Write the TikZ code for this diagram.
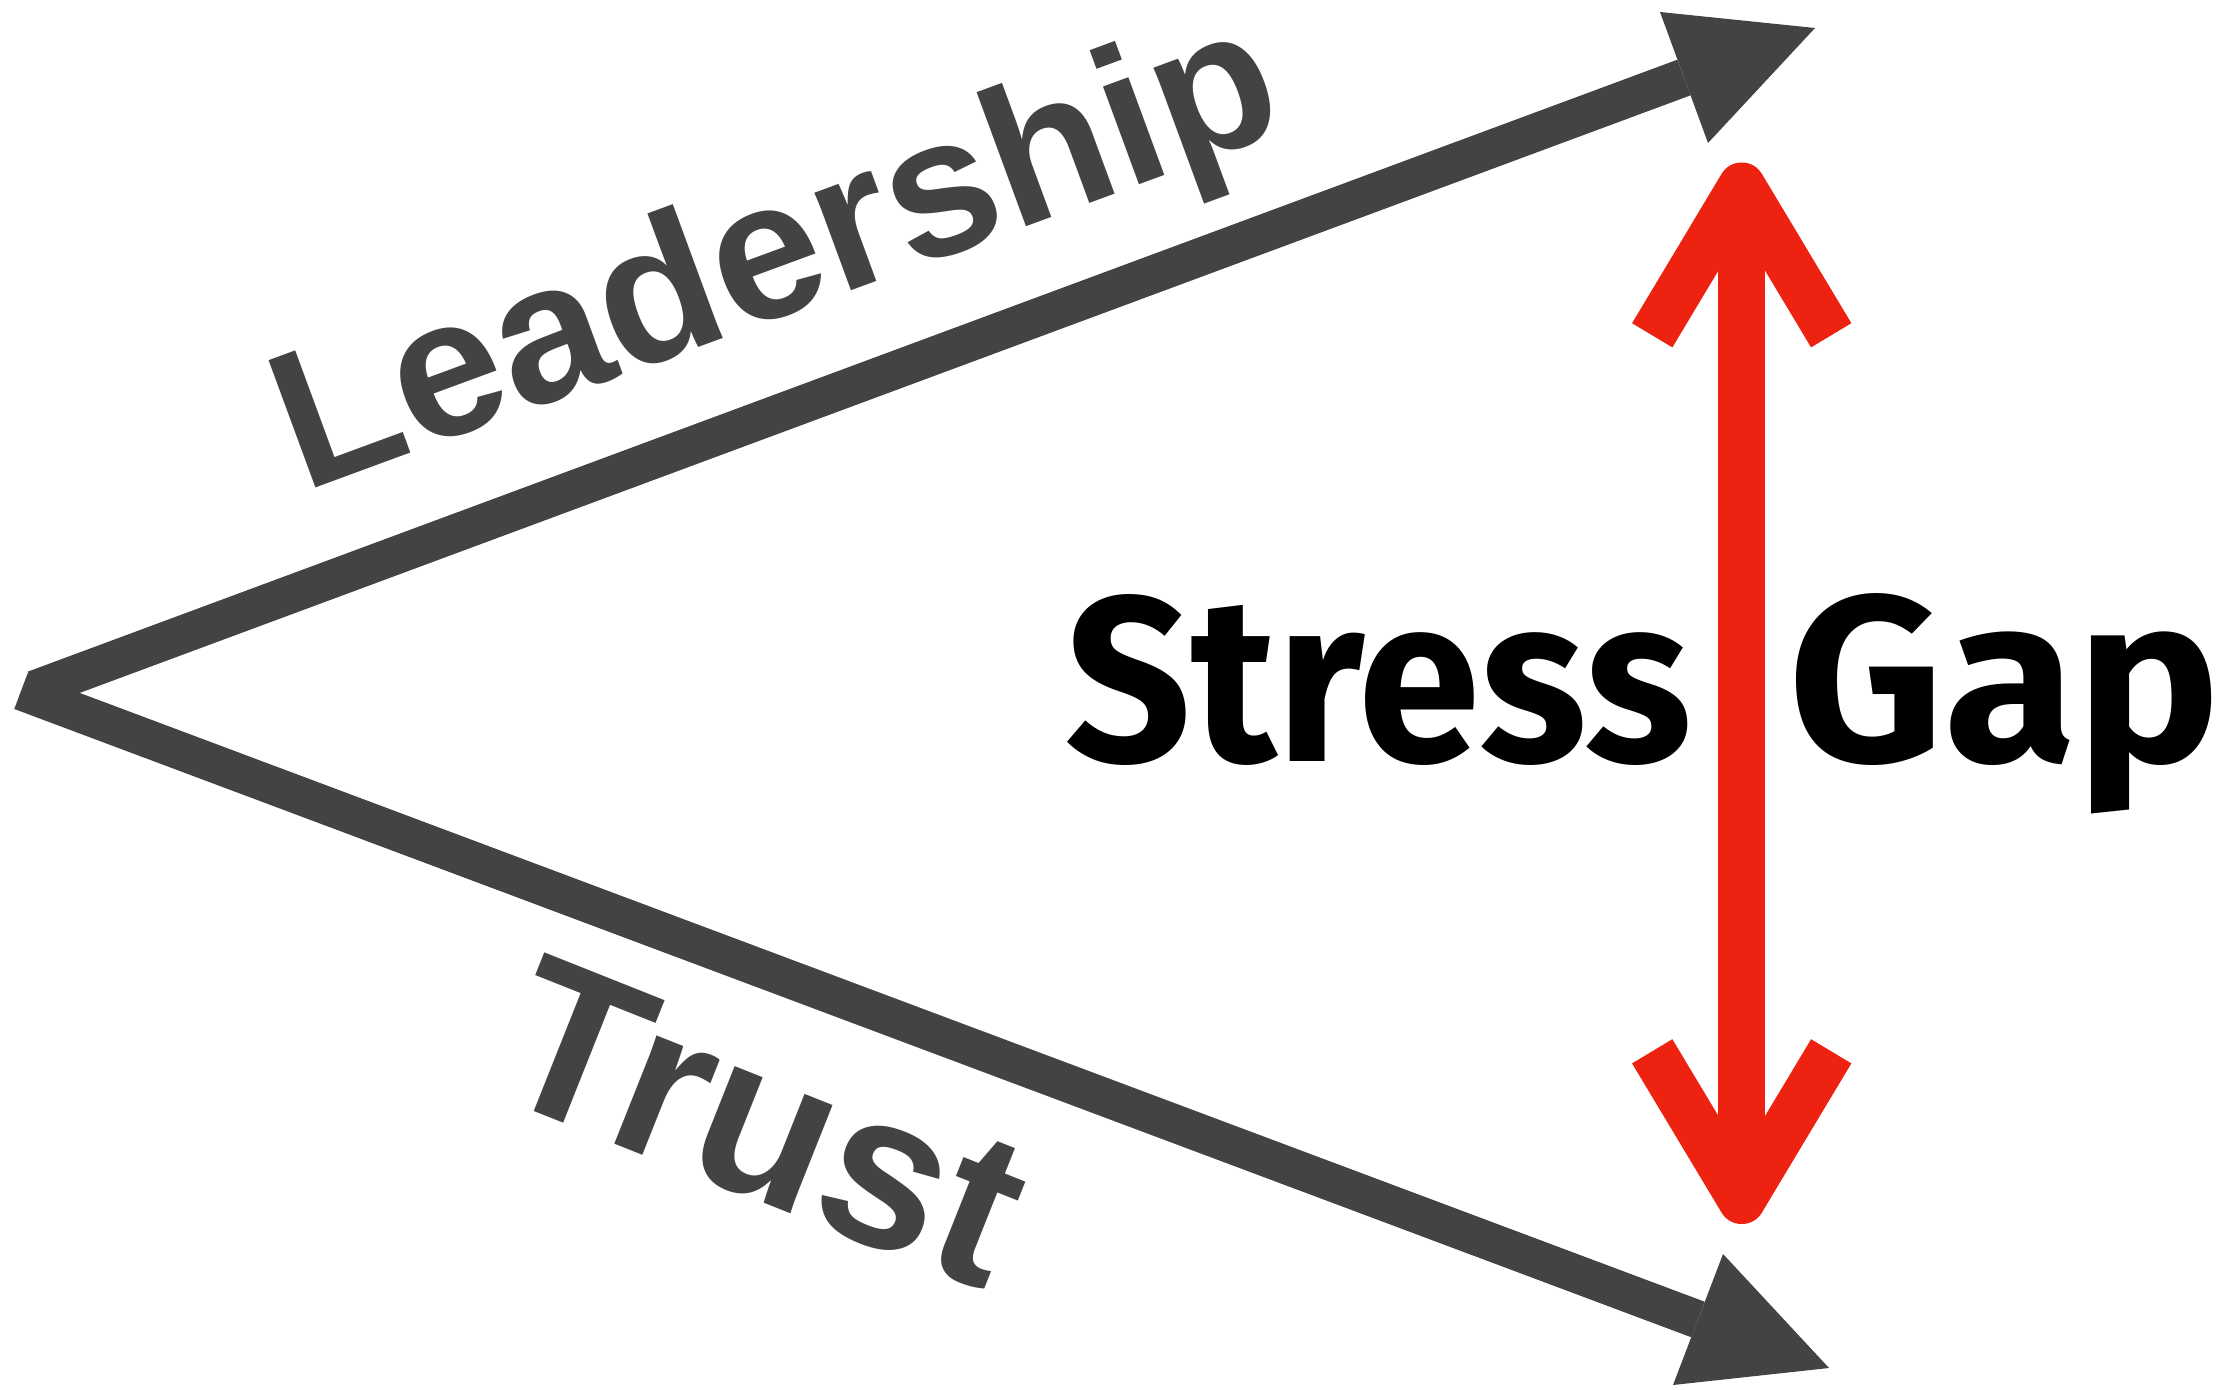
\documentclass[tikz,border=0pt]{standalone}
\usepackage{fontspec}
\setmainfont{Liberation Sans}
\newfontfamily\stressfont{Fira Sans}
\definecolor{axisgray}{RGB}{67,67,67}
\definecolor{gapred}{RGB}{238,34,16}
\begin{document}
\begin{tikzpicture}[x=0.5pt,y=-0.5pt,
  axisline/.style={draw=axisgray,line width=19pt,line cap=butt},
  axishead/.style={fill=axisgray},
  gapline/.style={draw=gapred,line width=23.5pt,line cap=butt,line join=round},
  axislabel/.style={text=axisgray,font=\bfseries,inner sep=0pt,anchor=base west},
  gaplabel/.style={text=black,inner sep=0pt,font=\stressfont\bfseries\fontsize{116}{118}\selectfont}]
\useasboundingbox (0,0) rectangle (2225,1390);
% coordinates
\coordinate (vU) at (34.3,689.5);
\coordinate (vL) at (20.95,691.2);
\coordinate (baseU) at (1684,77.5);
\coordinate (baseL) at (1698,1319.5);
\coordinate (tipU) at (1815,28);
\coordinate (tipL) at (1829,1368);
% gray lines
\draw[axisline] (vL) -- (baseL);
\draw[axisline] (vU) -- (baseU);
\fill[axishead] (tipU) -- (1660,12) -- (1708,143) -- cycle;
\fill[axishead] (tipL) -- (1723,1254) -- (1673,1385) -- cycle;
% red double arrow
\coordinate (gapTop) at (1741.7,186);
\coordinate (gapBot) at (1741.7,1200.5);
\coordinate (armTL) at (1652.2,335.3);
\coordinate (armTR) at (1831.2,335.3);
\coordinate (armBL) at (1652.2,1051.3);
\coordinate (armBR) at (1831.2,1051.3);
\draw[gapline] ([yshift=-10pt]gapTop) -- ([yshift=10pt]gapBot);
\draw[gapline] (armTL) -- (gapTop) -- (armTR);
\draw[gapline] (armBL) -- (gapBot) -- (armBR);
% labels
\node[axislabel,rotate=20.2,font=\bfseries\fontsize{98.6}{100}\selectfont] (lead) at (303.2,492.6) {Leadership};
\node[axislabel,rotate=-21.7,font=\bfseries\fontsize{110}{112}\selectfont] (trust) at (486.3,1092.8) {Trust};
\node[gaplabel,anchor=base east] (stress) at (1692,761) {\resizebox{313pt}{83.5pt}{Stress}};
\node[gaplabel,anchor=base west] (gap) at (1788,761) {\resizebox{216pt}{84pt}{Gap}};
\end{tikzpicture}
\end{document}
